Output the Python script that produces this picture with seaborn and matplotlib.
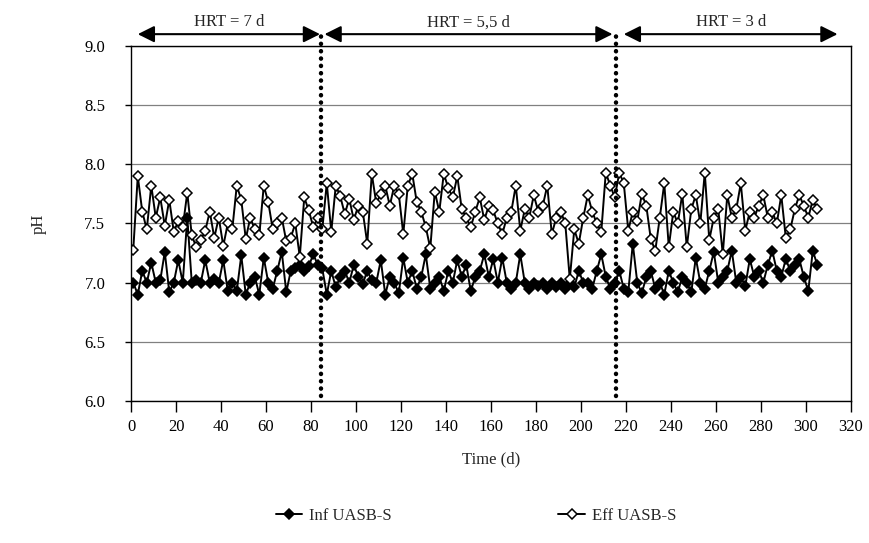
import matplotlib
matplotlib.use("Agg")
import matplotlib.pyplot as plt
from matplotlib.lines import Line2D
import numpy as np
import pandas as pd
import seaborn as sns

days = list(range(1, 306, 2))

inf_ph = [
    7.00, 6.90, 7.10, 7.00, 7.17, 7.00, 7.02, 7.26, 6.92, 7.00,
    7.19, 7.00, 7.55, 7.00, 7.02, 7.00, 7.19, 7.00, 7.03, 7.00,
    7.19, 6.93, 7.00, 6.93, 7.23, 6.90, 7.00, 7.05, 6.90, 7.21,
    7.00, 6.95, 7.10, 7.26, 6.92, 7.10, 7.12, 7.15, 7.10, 7.14,
    7.24, 7.15, 7.12, 6.90, 7.10, 6.96, 7.05, 7.10, 7.00, 7.15,
    7.05, 6.99, 7.10, 7.02, 7.00, 7.19, 6.90, 7.05, 7.00, 6.91,
    7.21, 7.00, 7.10, 6.95, 7.05, 7.24, 6.95, 7.00, 7.05, 6.93,
    7.10, 7.00, 7.19, 7.05, 7.15, 6.93, 7.05, 7.10, 7.24, 7.05,
    7.20, 7.00, 7.21, 7.00, 6.95, 7.00, 7.24, 7.00, 6.95, 7.00,
    6.97, 7.00, 6.95, 7.00, 6.96, 7.00, 6.95, 7.00, 6.96, 7.10,
    7.00, 7.00, 6.95, 7.10, 7.24, 7.05, 6.95, 7.00, 7.10, 6.95,
    6.92, 7.33, 7.00, 6.91, 7.05, 7.10, 6.95, 7.00, 6.90, 7.10,
    7.00, 6.92, 7.05, 7.00, 6.92, 7.21, 7.00, 6.95, 7.10, 7.26,
    7.00, 7.05, 7.10, 7.27, 7.00, 7.05, 6.97, 7.20, 7.05, 7.10,
    7.00, 7.15, 7.27, 7.10, 7.05, 7.20, 7.10, 7.15, 7.20, 7.05,
    6.93, 7.27, 7.15,
]

eff_ph = [
    7.28, 7.90, 7.60, 7.45, 7.82, 7.55, 7.72, 7.48, 7.70, 7.43,
    7.52, 7.47, 7.76, 7.40, 7.30, 7.36, 7.44, 7.60, 7.38, 7.55,
    7.31, 7.50, 7.45, 7.82, 7.70, 7.37, 7.55, 7.45, 7.40, 7.82,
    7.68, 7.45, 7.50, 7.55, 7.35, 7.38, 7.50, 7.22, 7.72, 7.61,
    7.47, 7.55, 7.45, 7.84, 7.43, 7.82, 7.73, 7.58, 7.71, 7.53,
    7.65, 7.60, 7.33, 7.92, 7.67, 7.75, 7.82, 7.65, 7.82, 7.75,
    7.41, 7.82, 7.92, 7.68, 7.60, 7.47, 7.29, 7.77, 7.60, 7.92,
    7.80, 7.72, 7.90, 7.62, 7.55, 7.47, 7.60, 7.72, 7.53, 7.65,
    7.61, 7.50, 7.41, 7.55, 7.60, 7.82, 7.44, 7.62, 7.55, 7.74,
    7.60, 7.65, 7.82, 7.41, 7.55, 7.60, 7.50, 7.03, 7.45, 7.33,
    7.55, 7.74, 7.60, 7.50, 7.43, 7.93, 7.82, 7.72, 7.93, 7.84,
    7.44, 7.60, 7.52, 7.75, 7.65, 7.37, 7.27, 7.55, 7.84, 7.30,
    7.60, 7.50, 7.75, 7.30, 7.62, 7.74, 7.50, 7.93, 7.36, 7.55,
    7.62, 7.24, 7.74, 7.55, 7.62, 7.84, 7.44, 7.60, 7.55, 7.65,
    7.74, 7.55, 7.60, 7.50, 7.74, 7.38, 7.45, 7.62, 7.74, 7.65,
    7.55, 7.70, 7.62,
]

hrt_labels = ["HRT = 7 d", "HRT = 5,5 d", "HRT = 3 d"]
hrt_spans = [(3, 84), (86, 214), (219, 314)]
hrt_changes = [84.5, 215.5]

df = pd.DataFrame({"Time (d)": days, "Inf UASB-S": inf_ph, "Eff UASB-S": eff_ph})

sns.set_style("white")
plt.rcParams["font.family"] = ["Liberation Serif", "DejaVu Serif"]

fig = plt.figure(figsize=(8.7, 5.43), dpi=100)
ax = fig.add_axes([0.1506, 0.2615, 0.8276, 0.6538])

mk = dict(marker="D", markersize=5.2, markeredgecolor="black", markeredgewidth=1.1)
sns.lineplot(data=df, x="Time (d)", y="Inf UASB-S", ax=ax, estimator=None,
             color="black", lw=1.4, markerfacecolor="black", **mk)
sns.lineplot(data=df, x="Time (d)", y="Eff UASB-S", ax=ax, estimator=None,
             color="black", lw=1.4, markerfacecolor="white", **mk)

ax.set_xlim(0, 320)
ax.set_ylim(6, 9)
ax.set_xticks(range(0, 321, 20))
yt = np.arange(6.0, 9.01, 0.5)
ax.set_yticks(yt)
ax.set_yticklabels([f"{v:.1f}" for v in yt])
ax.yaxis.grid(True, color="0.5", lw=0.9)
ax.set_axisbelow(True)

for s in ax.spines.values():
    s.set_color("black")
    s.set_linewidth(1)

ax.tick_params(axis="x", direction="out", length=8, width=1, pad=5,
               labelsize=12, colors="black", bottom=True)
ax.tick_params(axis="y", direction="out", length=4.5, width=1, pad=14,
               labelsize=12, colors="black", left=True)
ax.set_xlabel("Time (d)", fontsize=12, labelpad=12)
ax.set_ylabel("pH", fontsize=12, labelpad=27)

# HRT change lines
for xc in hrt_changes:
    ax.axvline(xc, ymin=0.015, ymax=1.035, color="black", lw=3.2,
               linestyle=(0, (0.05, 1.6)), dash_capstyle="round", clip_on=False)

# HRT arrows and labels
for lab, (x0, x1) in zip(hrt_labels, hrt_spans):
    ax.annotate("", xy=(x1, 9.1), xytext=(x0, 9.1),
                arrowprops=dict(arrowstyle="<|-|>,head_length=0.5,head_width=0.25",
                                color="black", lw=1.5, mutation_scale=20,
                                shrinkA=0, shrinkB=0),
                annotation_clip=False)
    ax.text((x0 + x1) / 2, 9.2, lab, ha="center", va="center", fontsize=12)

handles = [
    Line2D([], [], color="black", lw=1.4, markerfacecolor="black", **mk),
    Line2D([], [], color="black", lw=1.4, markerfacecolor="white", **mk),
]
fig.legend(handles, ["Inf UASB-S", "Eff UASB-S"], loc="center",
           bbox_to_anchor=(0.547, 0.05), ncol=2, frameon=False, fontsize=12,
           handlelength=1.6, handletextpad=0.4, columnspacing=10)

fig.savefig("out.png", dpi=100)
